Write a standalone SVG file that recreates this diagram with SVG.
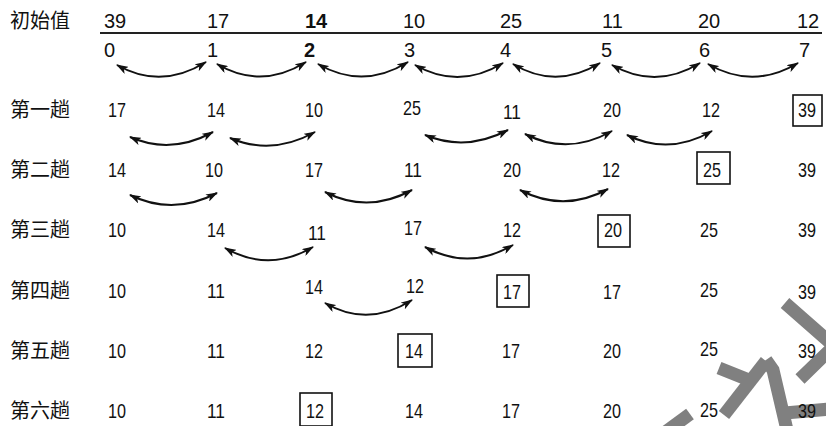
<svg xmlns="http://www.w3.org/2000/svg" width="826" height="426" viewBox="0 0 826 426">
<style>
.lbl{font-family:"Noto Sans CJK SC","Noto Sans CJK JP",sans-serif;font-size:20px;fill:#111}
.hd{font-family:"Liberation Sans",Arial,sans-serif;font-size:20px;fill:#111}
.b{font-weight:bold}
.n{font-family:"Liberation Sans",Arial,sans-serif;font-size:21px;fill:#111}
.box{fill:none;stroke:#111;stroke-width:1.6}
.arc{fill:none;stroke:#111;stroke-width:2;marker-start:url(#ah);marker-end:url(#ah)}
.wm{fill:none;stroke:#808080;stroke-width:13;stroke-linecap:butt;stroke-linejoin:miter}
</style>
<defs>
<marker id="ah" markerUnits="userSpaceOnUse" markerWidth="12" markerHeight="8" refX="11" refY="4" orient="auto-start-reverse">
<path d="M0,0 L12,4 L0,8 L3,4 z" fill="#111"/>
</marker>
</defs>
<rect width="826" height="426" fill="#fff"/>

<g id="watermark">
<polyline class="wm" points="785,303 834,346 800,379"/>
<polyline class="wm" points="724,415 766,361"/>
<polyline class="wm" points="766,360 773,370 787,430"/>
<polyline class="wm" points="719,368 754,382"/>
<polyline class="wm" points="785,413 830,409"/>
<polyline class="wm" points="660,436 690,414"/>
</g>

<g id="labels">
<g id="lbl0"><text class="lbl" x="10" y="28">初始值</text></g>
<g id="lbl1"><text class="lbl" x="10" y="117">第一趟</text></g>
<g id="lbl2"><text class="lbl" x="10" y="177">第二趟</text></g>
<g id="lbl3"><text class="lbl" x="10" y="237">第三趟</text></g>
<g id="lbl4"><text class="lbl" x="10" y="298">第四趟</text></g>
<g id="lbl5"><text class="lbl" x="10" y="358">第五趟</text></g>
<g id="lbl6"><text class="lbl" x="10" y="418">第六趟</text></g>
</g>

<g id="header">
<g id="h0"><text class="hd" x="104" y="28">39</text></g>
<g id="h1"><text class="hd" x="207" y="28">17</text></g>
<g id="h2"><text class="hd b" x="305" y="28">14</text></g>
<g id="h3"><text class="hd" x="403" y="28">10</text></g>
<g id="h4"><text class="hd" x="500" y="28">25</text></g>
<g id="h5"><text class="hd" x="602" y="28">11</text></g>
<g id="h6"><text class="hd" x="698" y="28">20</text></g>
<g id="h7"><text class="hd" x="797" y="28">12</text></g>
<line x1="100" y1="33" x2="822" y2="33" stroke="#222" stroke-width="2"/>
</g>

<g id="index">
<g id="i0"><text class="hd" x="104" y="57">0</text></g>
<g id="i1"><text class="hd" x="207" y="57">1</text></g>
<g id="i2"><text class="hd b" x="304" y="57">2</text></g>
<g id="i3"><text class="hd" x="404" y="57">3</text></g>
<g id="i4"><text class="hd" x="500" y="57">4</text></g>
<g id="i5"><text class="hd" x="601" y="57">5</text></g>
<g id="i6"><text class="hd" x="699" y="57">6</text></g>
<g id="i7"><text class="hd" x="799" y="57">7</text></g>
</g>

<g id="row1">
<g id="r1c0"><text class="n" x="108" y="117" textLength="18" lengthAdjust="spacingAndGlyphs">17</text></g>
<g id="r1c1"><text class="n" x="207" y="117" textLength="18" lengthAdjust="spacingAndGlyphs">14</text></g>
<g id="r1c2"><text class="n" x="305" y="117" textLength="18" lengthAdjust="spacingAndGlyphs">10</text></g>
<g id="r1c3"><text class="n" x="403" y="115" textLength="18" lengthAdjust="spacingAndGlyphs">25</text></g>
<g id="r1c4"><text class="n" x="503" y="119" textLength="18" lengthAdjust="spacingAndGlyphs">11</text></g>
<g id="r1c5"><text class="n" x="603" y="117" textLength="18" lengthAdjust="spacingAndGlyphs">20</text></g>
<g id="r1c6"><text class="n" x="702" y="117" textLength="18" lengthAdjust="spacingAndGlyphs">12</text></g>
<g id="r1c7"><rect class="box" x="793" y="95" width="29" height="31"/><text class="n" x="798" y="117" textLength="18" lengthAdjust="spacingAndGlyphs">39</text></g>
</g>

<g id="row2">
<g id="r2c0"><text class="n" x="108" y="177" textLength="18" lengthAdjust="spacingAndGlyphs">14</text></g>
<g id="r2c1"><text class="n" x="205" y="177" textLength="18" lengthAdjust="spacingAndGlyphs">10</text></g>
<g id="r2c2"><text class="n" x="305" y="177" textLength="18" lengthAdjust="spacingAndGlyphs">17</text></g>
<g id="r2c3"><text class="n" x="404" y="177" textLength="18" lengthAdjust="spacingAndGlyphs">11</text></g>
<g id="r2c4"><text class="n" x="503" y="177" textLength="18" lengthAdjust="spacingAndGlyphs">20</text></g>
<g id="r2c5"><text class="n" x="602" y="177" textLength="18" lengthAdjust="spacingAndGlyphs">12</text></g>
<g id="r2c6"><rect class="box" x="697" y="152" width="33" height="32"/><text class="n" x="703" y="177" textLength="18" lengthAdjust="spacingAndGlyphs">25</text></g>
<g id="r2c7"><text class="n" x="798" y="177" textLength="18" lengthAdjust="spacingAndGlyphs">39</text></g>
</g>

<g id="row3">
<g id="r3c0"><text class="n" x="108" y="237" textLength="18" lengthAdjust="spacingAndGlyphs">10</text></g>
<g id="r3c1"><text class="n" x="207" y="237" textLength="18" lengthAdjust="spacingAndGlyphs">14</text></g>
<g id="r3c2"><text class="n" x="308" y="240" textLength="18" lengthAdjust="spacingAndGlyphs">11</text></g>
<g id="r3c3"><text class="n" x="404" y="235" textLength="18" lengthAdjust="spacingAndGlyphs">17</text></g>
<g id="r3c4"><text class="n" x="503" y="237" textLength="18" lengthAdjust="spacingAndGlyphs">12</text></g>
<g id="r3c5"><rect class="box" x="598" y="215" width="32" height="32"/><text class="n" x="604" y="237" textLength="18" lengthAdjust="spacingAndGlyphs">20</text></g>
<g id="r3c6"><text class="n" x="700" y="237" textLength="18" lengthAdjust="spacingAndGlyphs">25</text></g>
<g id="r3c7"><text class="n" x="798" y="237" textLength="18" lengthAdjust="spacingAndGlyphs">39</text></g>
</g>

<g id="row4">
<g id="r4c0"><text class="n" x="108" y="298" textLength="18" lengthAdjust="spacingAndGlyphs">10</text></g>
<g id="r4c1"><text class="n" x="207" y="298" textLength="18" lengthAdjust="spacingAndGlyphs">11</text></g>
<g id="r4c2"><text class="n" x="305" y="294" textLength="18" lengthAdjust="spacingAndGlyphs">14</text></g>
<g id="r4c3"><text class="n" x="406" y="293" textLength="18" lengthAdjust="spacingAndGlyphs">12</text></g>
<g id="r4c4"><rect class="box" x="497" y="275" width="32" height="32"/><text class="n" x="503" y="299" textLength="18" lengthAdjust="spacingAndGlyphs">17</text></g>
<g id="r4c5"><text class="n" x="603" y="299" textLength="18" lengthAdjust="spacingAndGlyphs">17</text></g>
<g id="r4c6"><text class="n" x="700" y="297" textLength="18" lengthAdjust="spacingAndGlyphs">25</text></g>
<g id="r4c7"><text class="n" x="798" y="299" textLength="18" lengthAdjust="spacingAndGlyphs">39</text></g>
</g>

<g id="row5">
<g id="r5c0"><text class="n" x="108" y="358" textLength="18" lengthAdjust="spacingAndGlyphs">10</text></g>
<g id="r5c1"><text class="n" x="207" y="358" textLength="18" lengthAdjust="spacingAndGlyphs">11</text></g>
<g id="r5c2"><text class="n" x="305" y="358" textLength="18" lengthAdjust="spacingAndGlyphs">12</text></g>
<g id="r5c3"><rect class="box" x="398" y="334" width="34" height="33"/><text class="n" x="405" y="358" textLength="18" lengthAdjust="spacingAndGlyphs">14</text></g>
<g id="r5c4"><text class="n" x="502" y="358" textLength="18" lengthAdjust="spacingAndGlyphs">17</text></g>
<g id="r5c5"><text class="n" x="603" y="358" textLength="18" lengthAdjust="spacingAndGlyphs">20</text></g>
<g id="r5c6"><text class="n" x="700" y="356" textLength="18" lengthAdjust="spacingAndGlyphs">25</text></g>
<g id="r5c7"><text class="n" x="798" y="358" textLength="18" lengthAdjust="spacingAndGlyphs">39</text></g>
</g>

<g id="row6">
<g id="r6c0"><text class="n" x="108" y="418" textLength="18" lengthAdjust="spacingAndGlyphs">10</text></g>
<g id="r6c1"><text class="n" x="207" y="418" textLength="18" lengthAdjust="spacingAndGlyphs">11</text></g>
<g id="r6c2"><rect class="box" x="300" y="393" width="32" height="33"/><text class="n" x="306" y="418" textLength="18" lengthAdjust="spacingAndGlyphs">12</text></g>
<g id="r6c3"><text class="n" x="405" y="418" textLength="18" lengthAdjust="spacingAndGlyphs">14</text></g>
<g id="r6c4"><text class="n" x="502" y="418" textLength="18" lengthAdjust="spacingAndGlyphs">17</text></g>
<g id="r6c5"><text class="n" x="603" y="418" textLength="18" lengthAdjust="spacingAndGlyphs">20</text></g>
<g id="r6c6"><text class="n" x="700" y="417" textLength="18" lengthAdjust="spacingAndGlyphs">25</text></g>
<g id="r6c7"><text class="n" x="798" y="418" textLength="18" lengthAdjust="spacingAndGlyphs">39</text></g>
</g>

<g id="connectors">
<path class="arc" d="M117,65 Q161,90 206,62"/>
<path class="arc" d="M217,64 Q261,90 306,62"/>
<path class="arc" d="M318,64 Q363,90 408,62"/>
<path class="arc" d="M415,65 Q459,90 503,63"/>
<path class="arc" d="M513,64 Q556,90 600,63"/>
<path class="arc" d="M612,65 Q656,90 700,63"/>
<path class="arc" d="M708,64 Q753,90 798,63"/>

<path class="arc" d="M130,137 Q171,155 213,132"/>
<path class="arc" d="M230,138 Q272,156 315,132"/>
<path class="arc" d="M425,135 Q466,152 508,130"/>
<path class="arc" d="M525,134 Q568,156 612,131"/>
<path class="arc" d="M627,135 Q669,156 712,131"/>

<path class="arc" d="M130,195 Q173,216 217,193"/>
<path class="arc" d="M325,192 Q368,214 412,190"/>
<path class="arc" d="M520,190 Q564,213 608,189"/>

<path class="arc" d="M225,248 Q269,273 313,247"/>
<path class="arc" d="M425,247 Q469,271 513,245"/>

<path class="arc" d="M325,303 Q368,328 412,300"/>
</g>
</svg>
